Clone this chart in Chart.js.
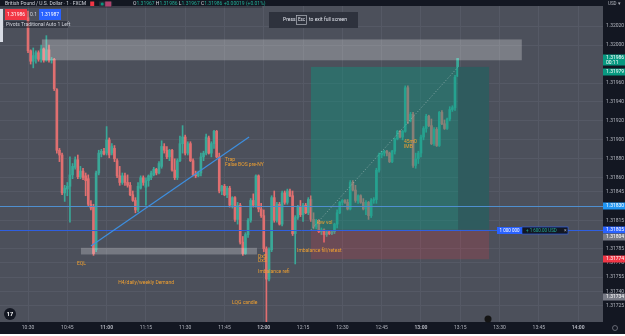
<!DOCTYPE html>
<html>
<head>
<meta charset="utf-8">
<script src="https://cdn.jsdelivr.net/npm/chart.js@4.4.0/dist/chart.umd.min.js"></script>
<style>
  html, body { margin: 0; padding: 0; background: #ffffff; }
  #wrap { width: 625px; height: 334px; background: #131722; }
  canvas { display: block; }
</style>
</head>
<body>
<div id="wrap"><canvas id="chart" width="625" height="334"></canvas></div>
<script>
// GBPUSD 1 minute candles, first candle is 10:30 (x value = minutes after 10:30)
const opens = [
  1.32029,1.31994,1.31983,1.31986,1.31992,1.31985,1.31996,1.31984,1.31995,1.31984,
  1.31985,1.31953,1.31889,1.31884,1.31844,1.31848,1.31851,1.31863,1.31871,1.31879,
  1.31861,1.31867,1.31862,1.31859,1.31832,1.31829,1.31784,1.31865,1.31885,1.31888,
  1.31886,1.31900,1.31886,1.31891,1.31878,1.31862,1.31855,1.31862,1.31855,1.31852,
  1.31842,1.31836,1.31826,1.31849,1.31860,1.31850,1.31857,1.31860,1.31863,1.31869,
  1.31865,1.31872,1.31893,1.31889,1.31882,1.31889,1.31868,1.31860,1.31878,1.31896,
  1.31903,1.31886,1.31896,1.31878,1.31863,1.31862,1.31865,1.31882,1.31886,1.31902,
  1.31886,1.31896,1.31909,1.31882,1.31846,1.31851,1.31842,1.31849,1.31831,1.31839,
  1.31816,1.31831,1.31792,1.31780,1.31800,1.31815,1.31836,1.31831,1.31862,1.31827,
  1.31820,1.31785,1.31753,1.31784,1.31839,1.31815,1.31832,1.31811,1.31844,1.31834,
  1.31846,1.31841,1.31801,1.31818,1.31829,1.31821,1.31831,1.31823,1.31837,1.31816,
  1.31808,1.31815,1.31803,1.31805,1.31800,1.31803,1.31801,1.31803,1.31811,1.31823,
  1.31834,1.31836,1.31834,1.31827,1.31855,1.31847,1.31836,1.31841,1.31834,1.31827,
  1.31834,1.31820,1.31836,1.31837,1.31868,1.31884,1.31886,1.31888,1.31886,1.31877,
  1.31888,1.31901,1.31909,1.31903,1.31909,1.31955,1.31920,1.31927,1.31873,1.31880,
  1.31886,1.31903,1.31912,1.31925,1.31915,1.31896,1.31911,1.31894,1.31929,1.31917,
  1.31912,1.31922,1.31932,1.31934,1.31967
];
const highs = [
  1.32036,1.31995,1.31997,1.31994,1.31994,1.32000,1.31997,1.32010,1.32000,1.31987,
  1.31986,1.31954,1.31891,1.31886,1.31852,1.31855,1.31882,1.31875,1.31882,1.31884,
  1.31872,1.31870,1.31865,1.31863,1.31836,1.31832,1.31867,1.31889,1.31890,1.31891,
  1.31914,1.31902,1.31896,1.31894,1.31880,1.31872,1.31865,1.31865,1.31863,1.31855,
  1.31846,1.31839,1.31855,1.31862,1.31862,1.31860,1.31863,1.31867,1.31871,1.31870,
  1.31877,1.31899,1.31896,1.31893,1.31890,1.31890,1.31880,1.31880,1.31904,1.31915,
  1.31905,1.31898,1.31898,1.31880,1.31867,1.31867,1.31886,1.31888,1.31906,1.31904,
  1.31898,1.31910,1.31910,1.31886,1.31852,1.31853,1.31851,1.31851,1.31840,1.31840,
  1.31834,1.31833,1.31798,1.31802,1.31817,1.31838,1.31843,1.31863,1.31863,1.31833,
  1.31826,1.31787,1.31786,1.31841,1.31846,1.31834,1.31834,1.31846,1.31846,1.31848,
  1.31848,1.31846,1.31820,1.31831,1.31836,1.31833,1.31833,1.31839,1.31841,1.31823,
  1.31816,1.31816,1.31807,1.31806,1.31804,1.31804,1.31804,1.31812,1.31826,1.31835,
  1.31837,1.31837,1.31837,1.31857,1.31857,1.31852,1.31842,1.31842,1.31838,1.31836,
  1.31835,1.31838,1.31839,1.31870,1.31886,1.31888,1.31889,1.31889,1.31887,1.31889,
  1.31902,1.31910,1.31910,1.31910,1.31957,1.31957,1.31929,1.31929,1.31886,1.31888,
  1.31905,1.31914,1.31927,1.31926,1.31922,1.31913,1.31913,1.31930,1.31931,1.31921,
  1.31923,1.31935,1.31936,1.31968,1.31986
];
const lows = [
  1.31992,1.31980,1.31976,1.31981,1.31983,1.31982,1.31982,1.31983,1.31982,1.31981,
  1.31952,1.31886,1.31877,1.31842,1.31835,1.31841,1.31813,1.31859,1.31869,1.31859,
  1.31859,1.31858,1.31841,1.31830,1.31826,1.31778,1.31782,1.31863,1.31882,1.31884,
  1.31884,1.31881,1.31884,1.31877,1.31860,1.31852,1.31853,1.31852,1.31850,1.31841,
  1.31835,1.31823,1.31824,1.31848,1.31852,1.31831,1.31851,1.31858,1.31862,1.31863,
  1.31864,1.31870,1.31886,1.31880,1.31878,1.31867,1.31858,1.31858,1.31877,1.31886,
  1.31884,1.31884,1.31877,1.31862,1.31860,1.31861,1.31862,1.31878,1.31884,1.31885,
  1.31882,1.31891,1.31881,1.31844,1.31842,1.31841,1.31839,1.31829,1.31828,1.31814,
  1.31811,1.31790,1.31778,1.31779,1.31797,1.31813,1.31829,1.31829,1.31824,1.31818,
  1.31782,1.31702,1.31751,1.31782,1.31813,1.31813,1.31810,1.31809,1.31832,1.31832,
  1.31840,1.31799,1.31769,1.31816,1.31819,1.31814,1.31822,1.31821,1.31814,1.31806,
  1.31806,1.31802,1.31800,1.31792,1.31798,1.31800,1.31800,1.31801,1.31807,1.31822,
  1.31831,1.31833,1.31826,1.31826,1.31846,1.31834,1.31833,1.31833,1.31826,1.31821,
  1.31816,1.31818,1.31833,1.31833,1.31866,1.31881,1.31883,1.31883,1.31876,1.31876,
  1.31885,1.31900,1.31902,1.31900,1.31908,1.31917,1.31919,1.31871,1.31870,1.31875,
  1.31882,1.31900,1.31908,1.31914,1.31895,1.31894,1.31893,1.31893,1.31916,1.31911,
  1.31911,1.31920,1.31930,1.31931,1.31967
];
const closes = [
  1.31994,1.31983,1.31989,1.31992,1.31985,1.31996,1.31984,1.31995,1.31984,1.31985,
  1.31954,1.31889,1.31884,1.31844,1.31849,1.31851,1.31863,1.31872,1.31879,1.31861,
  1.31867,1.31860,1.31857,1.31832,1.31828,1.31780,1.31865,1.31886,1.31888,1.31885,
  1.31900,1.31884,1.31893,1.31880,1.31862,1.31855,1.31862,1.31855,1.31852,1.31842,
  1.31836,1.31826,1.31851,1.31860,1.31855,1.31857,1.31862,1.31865,1.31869,1.31865,
  1.31875,1.31893,1.31889,1.31882,1.31889,1.31868,1.31860,1.31878,1.31896,1.31903,
  1.31886,1.31896,1.31878,1.31863,1.31862,1.31865,1.31882,1.31886,1.31903,1.31886,
  1.31896,1.31909,1.31882,1.31846,1.31851,1.31842,1.31849,1.31831,1.31839,1.31816,
  1.31831,1.31792,1.31780,1.31800,1.31815,1.31836,1.31831,1.31862,1.31827,1.31820,
  1.31785,1.31753,1.31784,1.31839,1.31815,1.31832,1.31811,1.31844,1.31834,1.31846,
  1.31841,1.31801,1.31818,1.31829,1.31821,1.31831,1.31823,1.31837,1.31816,1.31808,
  1.31815,1.31803,1.31805,1.31800,1.31803,1.31801,1.31803,1.31811,1.31823,1.31834,
  1.31836,1.31834,1.31827,1.31855,1.31847,1.31836,1.31841,1.31834,1.31827,1.31834,
  1.31820,1.31836,1.31837,1.31868,1.31884,1.31886,1.31888,1.31886,1.31877,1.31888,
  1.31901,1.31909,1.31903,1.31909,1.31955,1.31920,1.31927,1.31873,1.31880,1.31886,
  1.31903,1.31912,1.31925,1.31915,1.31896,1.31911,1.31894,1.31929,1.31917,1.31912,
  1.31922,1.31932,1.31934,1.31966,1.31986
];

// axis ticks
const xTickMinutes = [0, 15, 30, 45, 60, 75, 90, 105, 120, 135, 150, 165, 180, 195, 210];
const xTickLabels = ['10:30','10:45','11:00','11:15','11:30','11:45','12:00','12:15','12:30','12:45','13:00','13:15','13:30','13:45','14:00'];
const yTicks = [1.32020, 1.32000, 1.31960, 1.31940, 1.31920, 1.31900, 1.31880, 1.31860,
                1.31845, 1.31815, 1.31785, 1.31770, 1.31755, 1.31740, 1.31725];

// drawings on the chart (minutes after 10:30, price)
const supplyZone = { from: 5.3, to: 188.5, top: 1.32006, bottom: 1.31984 };
const demandZone = { from: 20.2, to: 87.4, top: 1.31786, bottom: 1.31779 };
const trendLine = [[24, 1.31788], [84.4, 1.31903]];
const hLines = [{ price: 1.31830, color: '#4f8fcf' }, { price: 1.31805, color: '#2f5fe0' }];
const position = { from: 108, filled: 164.2, to: 176, entry: 1.31805, target: 1.31977, stop: 1.31774 };
const notes = [
  ['EQL', 18.7, 1.31769],
  ['H4/daily/weekly Demand', 34.4, 1.31749],
  ['LQG candle', 77.9, 1.31728],
  ['Trap', 75.2, 1.31879],
  ['False BOS pre-NY', 75.2, 1.31874],
  ['DxS', 87.8, 1.31777],
  ['DxS', 87.8, 1.31772],
  ['Imbalance refi', 87.8, 1.31761],
  ['Imbalance fill/retest', 102.7, 1.31783],
  ['low vol', 110.3, 1.31812],
  ['45m0', 143.5, 1.31898],
  ['IMB', 143.5, 1.31893]
];
const priceTags = [
  { text: '1.31986', price: 1.31986, bg: '#089981', fg: '#ffffff', sub: '00:11' },
  { text: '1.31979', price: 1.31979, bg: '#089981', fg: '#ffffff', nudge: 7 },
  { text: '1.31830', price: 1.31830, bg: '#2196f3', fg: '#ffffff' },
  { text: '1.31805', price: 1.31805, bg: '#2962ff', fg: '#ffffff' },
  { text: '1.31804', price: 1.31804, bg: '#787b86', fg: '#ffffff', nudge: 6 },
  { text: '1.31774', price: 1.31774, bg: '#f23645', fg: '#ffffff' },
  { text: '1.31734', price: 1.31734, bg: '#787b86', fg: '#ffffff' }
];

const UP = '#3aa898', DOWN = '#e06f70';
const FONT = 'Roboto, "Liberation Sans", sans-serif';
const candleColors = opens.map((o, i) => closes[i] >= o ? UP : DOWN);

function text(ctx, s, x, y, color, size, weight, align) {
  ctx.font = (weight || 'normal') + ' ' + size + 'px ' + FONT;
  ctx.fillStyle = color;
  ctx.textAlign = align || 'left';
  ctx.textBaseline = 'middle';
  ctx.fillText(s, x, y);
  return ctx.measureText(s).width;
}

const backdrop = {
  id: 'backdrop',
  beforeDraw(chart) {
    const { ctx, chartArea: a } = chart;
    ctx.save();
    ctx.fillStyle = '#131722';
    ctx.fillRect(0, 0, chart.width, chart.height);
    ctx.fillStyle = '#4c505b';
    ctx.fillRect(a.left, a.top, a.right - a.left, a.bottom - a.top);
    ctx.restore();
  }
};

const drawings = {
  id: 'drawings',
  afterDatasetsDraw(chart) {
    const { ctx, chartArea: a } = chart;
    const X = v => chart.scales.x.getPixelForValue(v);
    const Y = v => chart.scales.y.getPixelForValue(v);
    ctx.save();
    ctx.beginPath();
    ctx.rect(a.left, a.top, a.right - a.left, a.bottom - a.top);
    ctx.clip();

    // zones
    ctx.fillStyle = 'rgba(255,255,255,0.26)';
    ctx.fillRect(X(supplyZone.from), Y(supplyZone.top), X(supplyZone.to) - X(supplyZone.from), Y(supplyZone.bottom) - Y(supplyZone.top));
    ctx.fillStyle = 'rgba(255,255,255,0.24)';
    ctx.fillRect(X(demandZone.from), Y(demandZone.top), X(demandZone.to) - X(demandZone.from), Y(demandZone.bottom) - Y(demandZone.top));

    // long position
    const p = position;
    ctx.fillStyle = '#2f5b5e';
    ctx.fillRect(X(p.filled), Y(p.target), X(p.to) - X(p.filled), Y(p.entry) - Y(p.target));
    ctx.fillStyle = 'rgba(8,153,129,0.4)';
    ctx.fillRect(X(p.from), Y(p.target), X(p.filled) - X(p.from), Y(p.entry) - Y(p.target));
    ctx.fillStyle = 'rgba(242,54,69,0.19)';
    ctx.fillRect(X(p.from), Y(p.entry), X(p.to) - X(p.from), Y(p.stop) - Y(p.entry));
    ctx.strokeStyle = 'rgba(230,230,230,0.45)';
    ctx.lineWidth = 1;
    ctx.setLineDash([1, 2]);
    ctx.beginPath();
    ctx.moveTo(X(p.from), Y(p.entry));
    ctx.lineTo(X(p.filled), Y(p.target));
    ctx.stroke();
    ctx.setLineDash([]);

    // horizontal levels
    hLines.forEach(l => {
      ctx.strokeStyle = l.color;
      ctx.beginPath();
      ctx.moveTo(a.left, Math.round(Y(l.price)) + 0.5);
      ctx.lineTo(a.right, Math.round(Y(l.price)) + 0.5);
      ctx.stroke();
    });

    // trend line
    ctx.strokeStyle = '#3d8fe0';
    ctx.lineWidth = 1.2;
    ctx.beginPath();
    ctx.moveTo(X(trendLine[0][0]), Y(trendLine[0][1]));
    ctx.lineTo(X(trendLine[1][0]), Y(trendLine[1][1]));
    ctx.stroke();

    // notes
    notes.forEach(n => text(ctx, n[0], X(n[1]), Y(n[2]), '#f0a030', 5));
    ctx.restore();
  },
  afterDraw(chart) {
    const { ctx, chartArea: a } = chart;
    const Y = v => chart.scales.y.getPixelForValue(v);
    ctx.save();

    // price tags on the right axis
    priceTags.forEach(t => {
      const cy = Math.round(Y(t.price)) + (t.nudge || 0);
      const h = t.sub ? 11 : 7;
      const top = t.sub ? cy - 3.5 : cy - 3.5;
      ctx.fillStyle = t.bg;
      ctx.fillRect(a.right, top, chart.width - a.right, h);
      text(ctx, t.text, a.right + 3, cy, t.fg, 5);
      if (t.sub) text(ctx, t.sub, a.right + 3, cy + 5, t.fg, 5);
    });
    text(ctx, 'USD \u25BE', a.right + 5, 3.5, '#b2b5be', 4.5);

    // position quantity / profit
    const qy = Math.round(Y(position.entry));
    ctx.fillStyle = '#2962ff';
    ctx.fillRect(497, qy - 3, 25, 7);
    text(ctx, '1 000 000', 509.5, qy + 0.5, '#ffffff', 4.5, 'normal', 'center');
    ctx.fillStyle = '#131722';
    ctx.fillRect(522, qy - 3, 46, 7);
    ctx.strokeStyle = '#2962ff';
    ctx.lineWidth = 0.6;
    ctx.strokeRect(522, qy - 3, 46, 7);
    text(ctx, '+ 1 600.00 USD', 526, qy + 0.5, '#22ab94', 4.5);
    text(ctx, '\u00D7', 564, qy + 0.5, '#b2b5be', 5);

    // header
    ctx.fillStyle = 'rgba(19,23,34,0.3)';
    ctx.fillRect(0, 0, 262, 8);
    let x = 5;
    x += text(ctx, 'British Pound / U.S. Dollar \u00B7 1 \u00B7 FXCM', x, 4, '#d1d4dc', 5);
    ctx.fillStyle = '#f23645';
    ctx.fillRect(x + 4, 1.5, 4, 4.5);
    ctx.fillStyle = '#2a2e39';
    ctx.fillRect(x + 13, 1.5, 13, 5);
    ctx.fillStyle = '#089981';
    ctx.beginPath(); ctx.arc(x + 16, 4, 1.5, 0, Math.PI * 2); ctx.fill();
    ctx.fillStyle = '#b2436e';
    ctx.fillRect(x + 19, 1.5, 6, 5);
    x = 133;
    [['O', '#d1d4dc'], ['1.31967 ', '#22ab94'], ['H', '#d1d4dc'], ['1.31986 ', '#22ab94'],
     ['L', '#d1d4dc'], ['1.31967 ', '#22ab94'], ['C', '#d1d4dc'], ['1.31986 ', '#22ab94'],
     ['+0.00019 (+0.01%)', '#22ab94']].forEach(s => { x += text(ctx, s[0], x, 4, s[1], 5); });

    ctx.fillStyle = '#f23645';
    ctx.fillRect(5, 9, 22, 11);
    text(ctx, '1.31986', 16, 14.5, '#ffffff', 5, 'normal', 'center');
    text(ctx, '0.1', 33.5, 14.5, '#d1d4dc', 5, 'normal', 'center');
    ctx.fillStyle = '#2962ff';
    ctx.fillRect(39, 9, 22, 11);
    text(ctx, '1.31987', 50, 14.5, '#ffffff', 5, 'normal', 'center');

    ctx.fillStyle = 'rgba(19,23,34,0.45)';
    ctx.fillRect(4, 21, 64, 7);
    text(ctx, 'Pivots Traditional Auto 1 Left', 6, 24.5, '#d1d4dc', 5);

    ctx.fillStyle = '#d9dde5';
    ctx.fillRect(0, 9, 3, 33);

    // full screen hint
    ctx.fillStyle = '#2e323d';
    ctx.fillRect(269, 12, 89, 16);
    text(ctx, 'Press', 283, 20, '#e0e3eb', 5);
    ctx.strokeStyle = '#b2b5be';
    ctx.lineWidth = 0.7;
    ctx.strokeRect(296.5, 15.5, 10, 9);
    text(ctx, 'Esc', 301.5, 20, '#e0e3eb', 4.5, 'normal', 'center');
    text(ctx, 'to exit full screen', 309, 20, '#e0e3eb', 5);

    // logo, event marker, settings
    ctx.fillStyle = '#131722';
    ctx.beginPath(); ctx.arc(10, 314, 6, 0, Math.PI * 2); ctx.fill();
    text(ctx, '17', 10, 314.5, '#ffffff', 5.5, 'bold', 'center');
    ctx.fillStyle = '#141414';
    ctx.beginPath(); ctx.arc(488, 319, 3.5, 0, Math.PI * 2); ctx.fill();
    ctx.strokeStyle = '#787b86';
    ctx.lineWidth = 0.8;
    ctx.beginPath(); ctx.arc(615, 328, 2.5, 0, Math.PI * 2); ctx.stroke();
    ctx.restore();
  }
};

new Chart(document.getElementById('chart').getContext('2d'), {
  type: 'bar',
  data: {
    datasets: [
      {
        data: opens.map((o, i) => ({ x: i, y: [o, closes[i]] })),
        backgroundColor: candleColors,
        barThickness: 2,
        minBarLength: 1,
        grouped: false
      },
      {
        data: lows.map((l, i) => ({ x: i, y: [l, highs[i]] })),
        backgroundColor: candleColors,
        barThickness: 1,
        grouped: false
      }
    ]
  },
  options: {
    responsive: false,
    animation: false,
    devicePixelRatio: 1,
    layout: { padding: 0 },
    plugins: { legend: { display: false }, tooltip: { enabled: false } },
    scales: {
      x: {
        type: 'linear',
        min: -10.7,
        max: 219.5,
        offset: false,
        afterBuildTicks: s => { s.ticks = xTickMinutes.map(v => ({ value: v })); },
        afterFit: s => { s.height = 12; },
        grid: { color: '#555965', drawTicks: false, offset: false },
        border: { display: false },
        ticks: {
          autoSkip: false,
          maxRotation: 0,
          padding: 3,
          color: '#b2b5be',
          font: c => ({ size: 5, family: FONT, weight: (xTickLabels[c.index] || '').endsWith(':00') ? 'bold' : 'normal' }),
          callback: (v, i) => xTickLabels[i]
        }
      },
      y: {
        type: 'linear',
        position: 'right',
        min: 1.317077,
        max: 1.320413,
        afterBuildTicks: s => { s.ticks = yTicks.map(v => ({ value: v })); },
        afterFit: s => { s.width = 22; },
        grid: { color: '#555965', drawTicks: false },
        border: { display: false },
        ticks: {
          autoSkip: false,
          padding: 3,
          color: '#b2b5be',
          font: { size: 5, family: FONT },
          callback: v => Number(v).toFixed(5)
        }
      }
    }
  },
  plugins: [backdrop, drawings]
});
</script>
</body>
</html>
